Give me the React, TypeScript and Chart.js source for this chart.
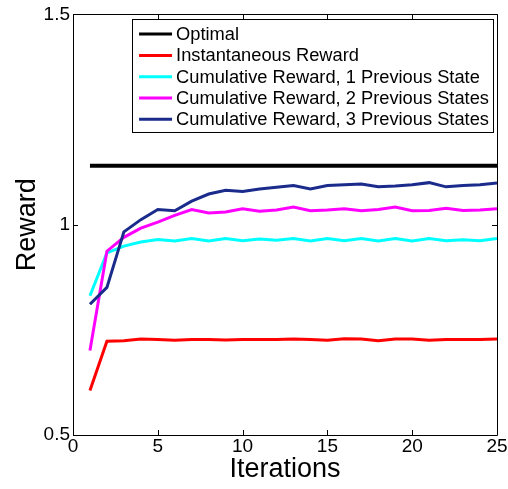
import React, { useEffect, useRef } from "react";
import { Chart, registerables } from "chart.js";

Chart.register(...registerables);

const iterations = [1,2,3,4,5,6,7,8,9,10,11,12,13,14,15,16,17,18,19,20,21,22,23,24,25];
const optimal = [1.14,1.14,1.14,1.14,1.14,1.14,1.14,1.14,1.14,1.14,1.14,1.14,1.14,1.14,1.14,1.14,1.14,1.14,1.14,1.14,1.14,1.14,1.14,1.14,1.14];
const instantaneous = [0.606,0.723,0.724,0.728,0.727,0.725,0.727,0.727,0.726,0.727,0.727,0.727,0.728,0.727,0.725,0.729,0.728,0.724,0.728,0.728,0.725,0.727,0.727,0.727,0.728];
const cumulative1 = [0.831,0.933,0.949,0.959,0.965,0.961,0.967,0.961,0.967,0.962,0.966,0.963,0.967,0.961,0.967,0.962,0.967,0.961,0.967,0.961,0.967,0.962,0.964,0.962,0.967];
const cumulative2 = [0.701,0.937,0.970,0.992,1.006,1.022,1.036,1.028,1.030,1.038,1.032,1.035,1.042,1.033,1.035,1.038,1.033,1.036,1.042,1.033,1.034,1.039,1.034,1.035,1.038];
const cumulative3 = [0.811,0.851,0.983,1.012,1.036,1.033,1.056,1.073,1.082,1.079,1.085,1.089,1.093,1.085,1.093,1.095,1.097,1.090,1.092,1.095,1.100,1.090,1.093,1.095,1.099];

const seriesLabels = [
  "Optimal",
  "Instantaneous Reward",
  "Cumulative Reward, 1 Previous State",
  "Cumulative Reward, 2 Previous States",
  "Cumulative Reward, 3 Previous States",
];
const seriesColors = ["#000000", "#ff0000", "#00ffff", "#ff00ff", "#1a2b8c"];
const seriesValues = [optimal, instantaneous, cumulative1, cumulative2, cumulative3];
const xTicks = [0, 5, 10, 15, 20, 25];
const yTicks = [0.5, 1, 1.5];

const FONT = "'Liberation Sans', Arial, Helvetica, sans-serif";

const framePlugin = {
  id: "matlabFrame",
  afterDraw(chart: any) {
    const { ctx, chartArea } = chart;
    const { left, right, top, bottom } = chartArea;
    const xs = chart.scales.x;
    const ys = chart.scales.y;
    ctx.save();
    ctx.strokeStyle = "#000";
    ctx.lineWidth = 1;
    ctx.beginPath();
    ctx.rect(Math.round(left) + 0.5, Math.round(top) + 0.5, Math.round(right - left), Math.round(bottom - top));
    ctx.stroke();
    const tl = 5;
    ctx.beginPath();
    xTicks.forEach((v) => {
      const px = Math.round(xs.getPixelForValue(v)) + 0.5;
      ctx.moveTo(px, bottom);
      ctx.lineTo(px, bottom - tl);
      ctx.moveTo(px, top);
      ctx.lineTo(px, top + tl);
    });
    yTicks.forEach((v) => {
      const py = Math.round(ys.getPixelForValue(v)) + 0.5;
      ctx.moveTo(left, py);
      ctx.lineTo(left + tl, py);
      ctx.moveTo(right, py);
      ctx.lineTo(right - tl, py);
    });
    ctx.stroke();

    // legend
    ctx.font = `18.3px ${FONT}`;
    let maxW = 0;
    seriesLabels.forEach((l) => {
      maxW = Math.max(maxW, ctx.measureText(l).width);
    });
    const padL = 7, lineLen = 33, gap = 4, padR = 4, rowH = 21.3;
    const boxW = padL + lineLen + gap + maxW + padR;
    const boxRight = right - 4;
    const boxLeft = boxRight - boxW;
    const boxTop = top + 5;
    const boxH = rowH * seriesLabels.length + 6;
    ctx.fillStyle = "#fff";
    ctx.fillRect(boxLeft, boxTop, boxW, boxH);
    ctx.strokeStyle = "#000";
    ctx.lineWidth = 1;
    ctx.strokeRect(Math.round(boxLeft) + 0.5, Math.round(boxTop) + 0.5, Math.round(boxW), Math.round(boxH));
    ctx.textBaseline = "middle";
    ctx.textAlign = "left";
    seriesLabels.forEach((l, i) => {
      const cy = boxTop + 14.7 + i * rowH;
      ctx.strokeStyle = seriesColors[i];
      ctx.lineWidth = 3;
      ctx.beginPath();
      ctx.moveTo(boxLeft + padL, cy);
      ctx.lineTo(boxLeft + padL + lineLen, cy);
      ctx.stroke();
      ctx.fillStyle = "#000";
      ctx.fillText(l, boxLeft + padL + lineLen + gap, cy + 1);
    });
    ctx.restore();
  },
};

export default function App() {
  const ref = useRef<HTMLCanvasElement | null>(null);
  useEffect(() => {
    if (!ref.current) return;
    const chart = new Chart(ref.current, {
      type: "line",
      data: {
        labels: iterations,
        datasets: seriesValues.map((vals, i) => ({
          label: seriesLabels[i],
          data: vals.map((v, j) => ({ x: iterations[j], y: v })),
          borderColor: seriesColors[i],
          backgroundColor: seriesColors[i],
          borderWidth: i === 0 ? 4 : 3,
          pointRadius: 0,
          tension: 0,
          fill: false,
          order: seriesValues.length - i,
        })),
      },
      options: {
        responsive: false,
        animation: false,
        layout: { padding: { top: 12, right: 11, left: 0, bottom: 0 } },
        plugins: { legend: { display: false }, tooltip: { enabled: false } },
        scales: {
          x: {
            type: "linear",
            min: 0,
            max: 25,
            afterBuildTicks: (s: any) => {
              s.ticks = xTicks.map((v) => ({ value: v }));
            },
            afterFit: (s: any) => {
              s.height = 54;
            },
            ticks: {
              color: "#000",
              font: { family: FONT, size: 19 },
              padding: 0,
              maxRotation: 0,
              callback: (v: any) => String(v),
            },
            grid: { display: false, drawTicks: false },
            border: { display: false },
            title: {
              display: true,
              text: "Iterations",
              color: "#000",
              font: { family: FONT, size: 27 },
              padding: { top: 0, bottom: 3 },
            },
          },
          y: {
            type: "linear",
            min: 0.5,
            max: 1.5,
            afterBuildTicks: (s: any) => {
              s.ticks = yTicks.map((v) => ({ value: v }));
            },
            afterFit: (s: any) => {
              s.width = 73;
            },
            ticks: {
              color: "#000",
              font: { family: FONT, size: 19 },
              padding: 3,
              callback: (v: any) => String(v),
            },
            grid: { display: false, drawTicks: false },
            border: { display: false },
            title: {
              display: true,
              text: "Reward",
              color: "#000",
              font: { family: FONT, size: 27 },
              padding: { top: 11, bottom: 0 },
            },
          },
        },
      },
      plugins: [framePlugin],
    });
    return () => chart.destroy();
  }, []);
  return (
    <div style={{ position: "absolute", left: 0, top: 0, width: 508, height: 489, background: "#fff" }}>
      <canvas ref={ref} width={508} height={489} style={{ width: 508, height: 489, display: "block" }} />
    </div>
  );
}
